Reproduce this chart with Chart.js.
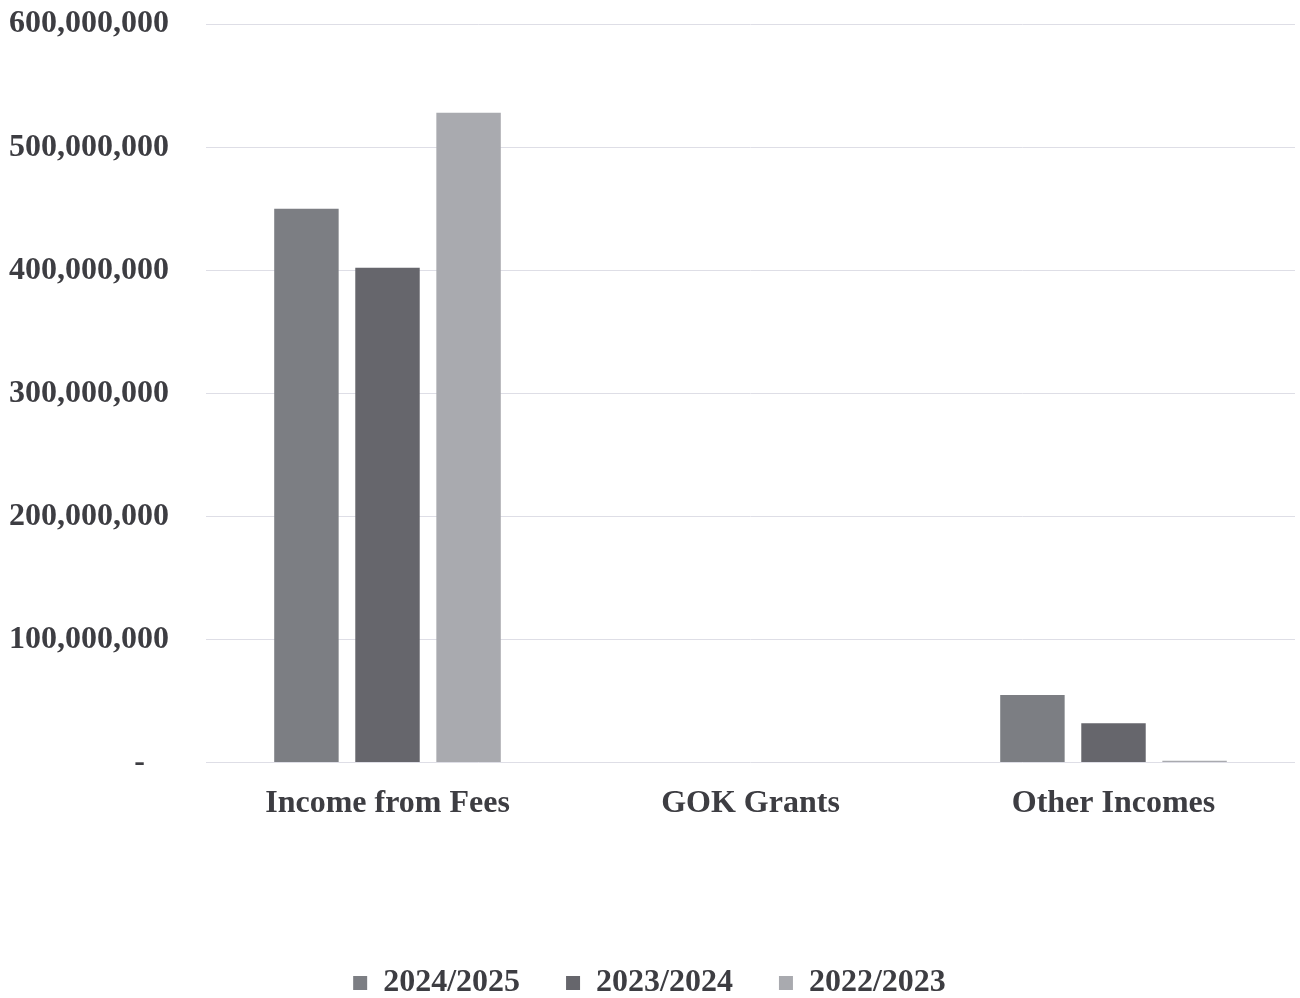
<!DOCTYPE html>
<html>
<head>
<meta charset="utf-8">
<script src="https://cdn.jsdelivr.net/npm/chart.js@4/dist/chart.umd.min.js"></script>
<style>
  html, body { margin: 0; padding: 0; background: #ffffff; }
  #wrap { width: 1300px; height: 998px; position: relative; }
</style>
</head>
<body>
<div id="wrap"><canvas id="chart"></canvas></div>
<script>
// Income categories and yearly amounts (KES)
const categories = ['Income from Fees', 'GOK Grants', 'Other Incomes'];
const seriesNames = ['2024/2025', '2023/2024', '2022/2023'];
const income2024_25 = [450000000, 0, 55000000];
const income2023_24 = [402000000, 0, 32000000];
const income2022_23 = [528000000, 0, 1500000];
const yTicks = [0, 100000000, 200000000, 300000000, 400000000, 500000000, 600000000];

const barColors = ['#7c7e83', '#66666c', '#a9aaaf'];
const textColor = '#3d3d42';
const gridColor = '#dedee6';
const fontFamily = '"Liberation Serif", "Times New Roman", serif';

const fmt = new Intl.NumberFormat('en-US');

new Chart(document.getElementById('chart'), {
  type: 'bar',
  data: {
    labels: categories,
    datasets: [
      { label: seriesNames[0], data: income2024_25, backgroundColor: barColors[0] },
      { label: seriesNames[1], data: income2023_24, backgroundColor: barColors[1] },
      { label: seriesNames[2], data: income2022_23, backgroundColor: barColors[2] }
    ]
  },
  options: {
    responsive: true,
    maintainAspectRatio: false,
    animation: false,
    datasets: {
      bar: { categoryPercentage: 0.67, barPercentage: 0.795 }
    },
    layout: { padding: { top: 2, right: 5, left: 4, bottom: -11 } },
    plugins: {
      tooltip: { enabled: false },
      legend: {
        position: 'bottom',
        labels: {
          color: textColor,
          font: { family: fontFamily, size: 32, weight: 'bold' },
          boxWidth: 14,
          boxHeight: 14,
          padding: 46
        }
      }
    },
    scales: {
      x: {
        grid: { display: false, drawTicks: false },
        border: { display: false },
        ticks: {
          color: textColor,
          font: { family: fontFamily, size: 32, weight: 'bold' },
          padding: 22
        },
        afterFit(axis) { axis.height += 76; }
      },
      y: {
        min: 0,
        max: 600000000,
        afterBuildTicks(axis) { axis.ticks = yTicks.map(v => ({ value: v })); },
        grid: { color: gridColor, lineWidth: 1, drawTicks: true, tickLength: 32, tickColor: 'rgba(0,0,0,0)' },
        border: { display: false },
        ticks: {
          color: textColor,
          font: { family: fontFamily, size: 32, weight: 'bold' },
          padding: 5,
          callback: v => v === 0 ? '-   ' : fmt.format(v)
        }
      }
    }
  }
});
</script>
</body>
</html>
